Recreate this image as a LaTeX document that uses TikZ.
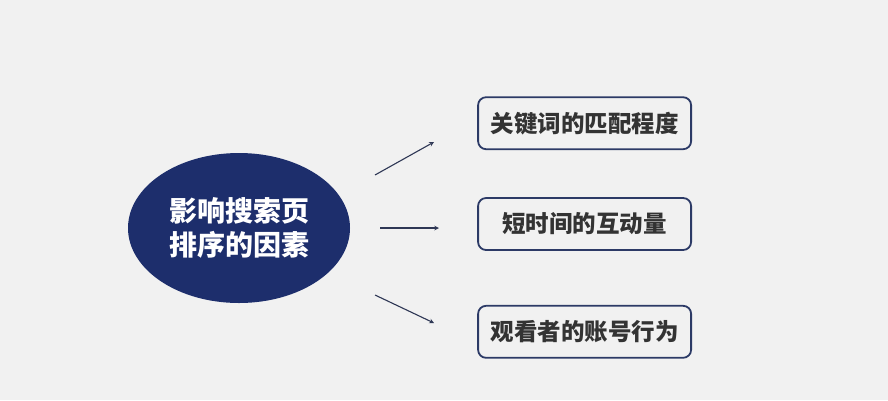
\documentclass[tikz,border=0pt]{standalone}
\usepackage{fontspec}
\setmainfont{Noto Sans CJK SC}
\usetikzlibrary{shapes,arrows,positioning}
\definecolor{bgcol}{HTML}{F1F1F1}
\definecolor{navy}{HTML}{1D2E6C}
\definecolor{rim}{HTML}{2C3A66}
\definecolor{inkgray}{HTML}{333333}
\definecolor{arrowcol}{HTML}{2E3755}

\begin{document}
\begin{tikzpicture}[
    x=1pt,y=1pt,
    hub/.style={ellipse,fill=navy,minimum width=222pt,minimum height=150pt,inner sep=0pt,
        text=white,align=center,font=\fontsize{28}{34}\selectfont\bfseries},
    box/.style={rectangle,draw=rim,line width=1.8pt,rounded corners=8pt,fill=bgcol,
        minimum width=213pt,minimum height=52pt,inner sep=0pt,align=center,
        text=inkgray,font=\fontsize{23.5}{28}\selectfont\bfseries},
    arrow/.style={-stealth,line width=1.1pt,draw=arrowcol}
]

%--- Background and page size ---%
\fill[bgcol] (0,0) rectangle (888,-400);
\useasboundingbox (0,0) rectangle (888,-400);

%--- Nodes: central topic and the three factors ---%
\node[hub] (factors) at (239,-228) {影响搜索页\\排序的因素};
\node[box,right=127pt of factors,yshift=4pt] (interact) {短时间的互动量};
\node[box,above=47pt of interact] (keyword) {关键词的匹配程度};
\node[box,below=54pt of interact] (account) {观看者的账号行为};

%--- Free arrow ends between the ellipse and the boxes ---%
\coordinate (kstart) at (375,-175);
\coordinate (kend) at (434,-142);
\coordinate (istart) at (380,-228);
\coordinate (iend) at (439,-228);
\coordinate (astart) at (375,-295);
\coordinate (aend) at (434,-323);

%--- Arrows ---%
\draw[arrow] (kstart) -- (kend);
\draw[arrow] (istart) -- (iend);
\draw[arrow] (astart) -- (aend);

\end{tikzpicture}
\end{document}
